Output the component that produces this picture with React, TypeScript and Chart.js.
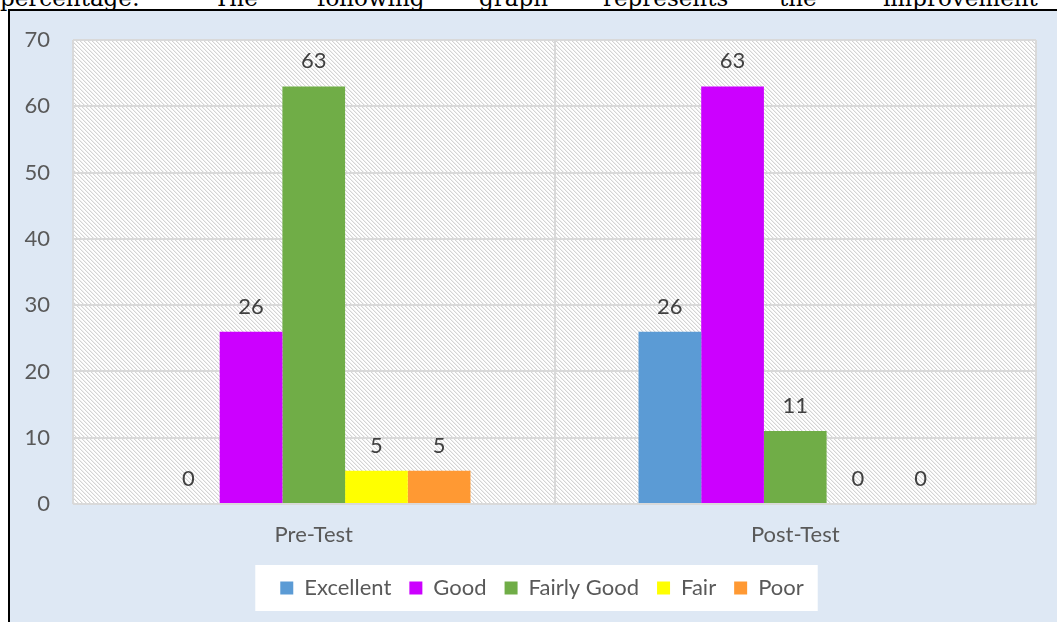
import React, { useEffect, useRef } from 'react';
import { Chart, registerables } from 'chart.js';

Chart.register(...registerables);

// ---- data ----
const categories = ['Pre-Test', 'Post-Test'];
const seriesNames = ['Excellent', 'Good', 'Fairly Good', 'Fair', 'Poor'];
const excellent = [0, 26];
const good = [26, 63];
const fairlyGood = [63, 11];
const fair = [5, 0];
const poor = [5, 0];
const seriesValues = [excellent, good, fairlyGood, fair, poor];
const seriesColors = ['#5b9bd5', '#cc00ff', '#70ad47', '#ffff00', '#ff9933'];
const yMin = 0;
const yMax = 70;
const yStep = 10;
const headerWords = ['percentage:', 'The', 'following', 'graph', 'represents', 'the', 'improvement'];

// ---- layout / style ----
const headerLeft = [0, 214, 317, 479, 603, 779, 883];
const FONT = 'Lato, "DejaVu Sans", sans-serif';
const TEXT = '#595959';
const GRID = '#d9d9d9';

function makePattern(): CanvasPattern | string {
  const c = document.createElement('canvas');
  c.width = 8;
  c.height = 8;
  const g = c.getContext('2d');
  if (!g) return '#f2f2f2';
  g.fillStyle = '#ffffff';
  g.fillRect(0, 0, 8, 8);
  for (let y = 0; y < 8; y++) {
    for (let x = 0; x < 8; x++) {
      const m = (((x - y) % 4) + 4) % 4;
      if (m === 0) {
        g.fillStyle = '#d4d4d4';
        g.fillRect(x, y, 1, 1);
      } else if (m === 1) {
        g.fillStyle = '#f0f0f0';
        g.fillRect(x, y, 1, 1);
      }
    }
  }
  const p = g.createPattern(c, 'repeat');
  return p || '#f2f2f2';
}

export default function App() {
  const ref = useRef<HTMLCanvasElement | null>(null);

  useEffect(() => {
    const canvas = ref.current;
    if (!canvas) return;
    const pattern = makePattern();

    const backgroundPlugin = {
      id: 'bgAndLegendBox',
      beforeDraw(chart: any) {
        const { ctx, chartArea } = chart;
        ctx.save();
        ctx.fillStyle = pattern;
        ctx.fillRect(chartArea.left, chartArea.top, chartArea.right - chartArea.left, chartArea.bottom - chartArea.top);
        const boxes = chart.legend && chart.legend.legendHitBoxes;
        if (boxes && boxes.length) {
          const first = boxes[0];
          const last = boxes[boxes.length - 1];
          const cy = first.top + first.height / 2;
          ctx.fillStyle = '#ffffff';
          const l = first.left - 25;
          const r = last.left + last.width + 14;
          ctx.fillRect(l, cy - 23, r - l, 46);
        }
        ctx.restore();
      },
    };

    const valueLabelPlugin = {
      id: 'valueLabels',
      afterDatasetsDraw(chart: any) {
        const { ctx } = chart;
        ctx.save();
        ctx.font = `22px ${FONT}`;
        ctx.fillStyle = '#404040';
        ctx.textAlign = 'center';
        ctx.textBaseline = 'middle';
        chart.data.datasets.forEach((ds: any, di: number) => {
          const meta = chart.getDatasetMeta(di);
          meta.data.forEach((bar: any, i: number) => {
            const v = ds.data[i];
            ctx.fillText(String(v), bar.x, bar.y - 25);
          });
        });
        ctx.restore();
      },
    };

    const chart = new Chart(canvas, {
      type: 'bar',
      data: {
        labels: categories,
        datasets: seriesNames.map((name, i) => ({
          label: name,
          data: seriesValues[i],
          backgroundColor: seriesColors[i],
          borderWidth: 0,
          barPercentage: 1,
          categoryPercentage: 0.651,
        })),
      },
      options: {
        responsive: false,
        animation: false,
        devicePixelRatio: 1,
        layout: { padding: { left: 10, right: 3, top: 29, bottom: 13 } },
        plugins: {
          legend: {
            position: 'bottom',
            labels: {
              boxWidth: 13,
              boxHeight: 13,
              padding: 18,
              color: TEXT,
              font: { family: FONT, size: 22 },
            },
          },
          tooltip: { enabled: false },
        },
        scales: {
          x: {
            grid: { color: GRID, lineWidth: 2, drawTicks: false, offset: true },
            border: { display: false },
            ticks: { color: TEXT, padding: 18, font: { family: FONT, size: 22 } },
            afterFit(s: any) {
              s.height = 55;
            },
          },
          y: {
            min: yMin,
            max: yMax,
            grid: { color: GRID, lineWidth: 2, drawTicks: true, tickLength: 23, tickColor: 'rgba(0,0,0,0)' },
            border: { display: false },
            ticks: { stepSize: yStep, color: TEXT, padding: 0, font: { family: FONT, size: 22 } },
            afterFit(s: any) {
              s.width = 53;
            },
          },
          spacer: {
            type: 'linear',
            position: 'right',
            display: true,
            grid: { display: false, drawTicks: false },
            border: { display: false },
            ticks: { display: false },
            afterFit(s: any) {
              s.width = 28;
            },
          },
        },
      },
      plugins: [backgroundPlugin, valueLabelPlugin],
    } as any);

    return () => chart.destroy();
  }, []);

  return (
    <div style={{ position: 'fixed', left: 0, top: 0, width: 1057, height: 622, overflow: 'hidden', background: '#ffffff' }}>
      {headerWords.map((w, i) => (
        <span
          key={i}
          style={{
            position: 'absolute',
            left: headerLeft[i],
            top: -14,
            fontFamily: '"DejaVu Serif", "Liberation Serif", serif',
            fontSize: 23,
            lineHeight: '24px',
            color: '#000000',
            whiteSpace: 'nowrap',
          }}
        >
          {w}
        </span>
      ))}
      <div
        style={{
          position: 'absolute',
          left: 8,
          top: 9,
          width: 1100,
          height: 700,
          borderLeft: '2px solid #000000',
          borderTop: '2px solid #000000',
          background: '#dee8f4',
        }}
      >
        <canvas ref={ref} width={1057} height={611} style={{ display: 'block', width: 1057, height: 611 }} />
      </div>
    </div>
  );
}
